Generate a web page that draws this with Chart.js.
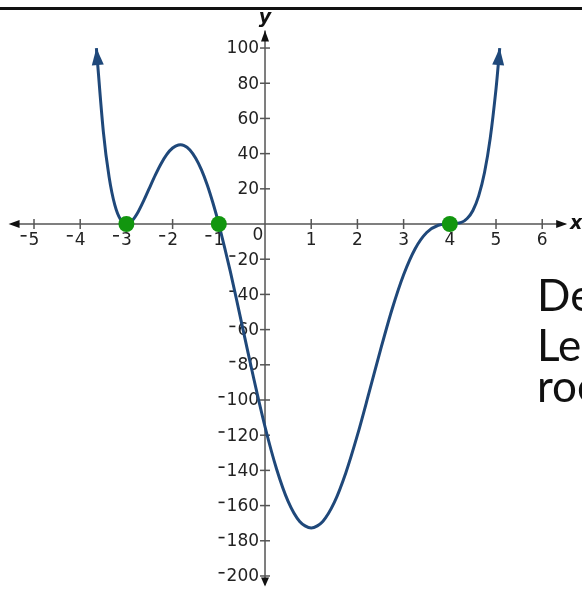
<!DOCTYPE html>
<html>
<head>
<meta charset="utf-8">
<script src="https://cdn.jsdelivr.net/npm/chart.js@4"></script>
<style>
  body { margin: 0; background: #fff; }
  canvas { display: block; }
</style>
</head>
<body>
<canvas id="graph" width="582" height="589"></canvas>
<script>
// sampled points of the polynomial curve
let xValues = [-3.65, -3.5, -3.375, -3.25, -3.125, -3, -2.875, -2.75, -2.625, -2.5, -2.375, -2.25,
  -2.125, -2, -1.875, -1.75, -1.625, -1.5, -1.375, -1.25, -1.125, -1,
  -0.75, -0.5, -0.25, 0, 0.25, 0.5, 0.75, 1, 1.25, 1.5, 1.75, 2, 2.25, 2.5, 2.75,
  3, 3.25, 3.5, 3.75, 4, 4.25, 4.375, 4.5, 4.625, 4.75, 4.875, 5, 5.08]
let yValues = [100, 52.7, 26.8, 10.7, 2.4, 0, 1.9, 6.7, 13.3, 20.6, 27.8, 34.3,
  39.6, 43.2, 44.9, 44.6, 42.1, 37.4, 30.8, 22.2, 11.8, 0,
  -27.1, -57, -87.1, -115.2, -139.2, -157.6, -169, -172.8, -169, -158.2, -141.3, -120, -96, -71.5, -48.4,
  -28.8, -14, -4.8, -0.7, 0, 0.9, 3.1, 7.7, 16, 29.1, 48.8, 76.8, 100]

// zeros marked in green
let rootX = [-3, -1, 4]
let rootY = [0, 0, 0]

let xTicks = [-5, -4, -3, -2, -1, 1, 2, 3, 4, 5, 6]
let yTicks = [100, 80, 60, 40, 20, -20, -40, -60, -80, -100, -120, -140, -160, -180, -200]

let curveColor = "#1f487a"
let axisColor = "#555555"
let labelFont = "17px 'DejaVu Sans'"

function arrowHead(ctx, tipX, tipY, angle, len, half, color) {
  ctx.save()
  ctx.translate(tipX, tipY)
  ctx.rotate(angle)
  ctx.beginPath()
  ctx.moveTo(0, 0)
  ctx.lineTo(-len, -half)
  ctx.lineTo(-len, half)
  ctx.closePath()
  ctx.fillStyle = color
  ctx.fill()
  ctx.restore()
}

// drawn axes through the origin with crossing tick marks
let axesPlugin = {
  id: "axesThroughOrigin",
  beforeDatasetsDraw(chart) {
    let ctx = chart.ctx
    let xs = chart.scales.x
    let ys = chart.scales.y
    let ox = xs.getPixelForValue(0)
    let oy = ys.getPixelForValue(0)

    ctx.save()
    ctx.strokeStyle = axisColor
    ctx.lineWidth = 1.5
    ctx.beginPath()
    ctx.moveTo(xs.getPixelForValue(-5.5), oy)
    ctx.lineTo(xs.getPixelForValue(6.5), oy)
    ctx.moveTo(ox, ys.getPixelForValue(110))
    ctx.lineTo(ox, ys.getPixelForValue(-205))
    ctx.stroke()

    arrowHead(ctx, xs.getPixelForValue(-5.55), oy, Math.PI, 11, 4, "#111")
    arrowHead(ctx, xs.getPixelForValue(6.54), oy, 0, 11, 4, "#111")
    arrowHead(ctx, ox, ys.getPixelForValue(110), -Math.PI / 2, 11, 4, "#111")
    arrowHead(ctx, ox, ys.getPixelForValue(-206), Math.PI / 2, 9, 4, "#111")

    ctx.fillStyle = "#222"
    ctx.font = labelFont
    xTicks.forEach(v => {
      let px = xs.getPixelForValue(v)
      ctx.beginPath()
      ctx.moveTo(px, oy - 5)
      ctx.lineTo(px, oy + 5)
      ctx.stroke()
      let txt = String(Math.abs(v))
      let w = ctx.measureText(txt).width
      ctx.textAlign = "center"
      ctx.textBaseline = "top"
      ctx.fillText(txt, px, oy + 8)
      if (v < 0) ctx.fillRect(px - w / 2 - 8, oy + 11, 6, 1.6)
    })
    yTicks.forEach(v => {
      let py = ys.getPixelForValue(v)
      ctx.beginPath()
      ctx.moveTo(ox - 5, py)
      ctx.lineTo(ox + 5, py)
      ctx.stroke()
      let txt = String(Math.abs(v))
      let w = ctx.measureText(txt).width
      ctx.textAlign = "right"
      ctx.textBaseline = "middle"
      ctx.fillText(txt, ox - 6, py + 1)
      if (v < 0) ctx.fillRect(ox - 6 - w - 8, py - 4, 6, 1.6)
    })
    ctx.textAlign = "center"
    ctx.textBaseline = "top"
    ctx.fillText("0", ox - 7, oy + 3)

    ctx.fillStyle = "#111"
    ctx.font = "italic bold 19px 'DejaVu Sans'"
    ctx.textAlign = "left"
    ctx.textBaseline = "middle"
    ctx.fillText("x", xs.getPixelForValue(6.6), oy)
    ctx.textAlign = "center"
    ctx.fillText("y", ox, ys.getPixelForValue(117))
    ctx.restore()
  },
  afterDatasetsDraw(chart) {
    // arrowheads at both ends of the curve
    let pts = chart.getDatasetMeta(1).data
    let a = pts[0], b = pts[1]
    arrowHead(chart.ctx, a.x, a.y, Math.atan2(a.y - b.y, a.x - b.x), 17, 6, curveColor)
    let c = pts[pts.length - 1], d = pts[pts.length - 2]
    arrowHead(chart.ctx, c.x, c.y, Math.atan2(c.y - d.y, c.x - d.x), 17, 6, curveColor)
  },
  afterDraw(chart) {
    let ctx = chart.ctx
    ctx.save()
    // slide rule across the top
    ctx.fillStyle = "#111"
    ctx.fillRect(0, 7, chart.width, 3)
    // side notes, running off the right edge
    ctx.font = "44px Lato"
    ctx.textAlign = "left"
    ctx.textBaseline = "alphabetic"
    ctx.fillText("Degree", 537, 311)
    ctx.fillText("Leading", 537, 361)
    ctx.fillText("roots", 537, 402)
    ctx.restore()
  }
}

new Chart("graph", {
  type: "line",
  data: {
    datasets: [{
      data: rootX.map((x, i) => ({ x: x, y: rootY[i] })),
      showLine: false,
      pointRadius: 8,
      pointBackgroundColor: "#12960f",
      pointBorderWidth: 0
    }, {
      data: xValues.map((x, i) => ({ x: x, y: yValues[i] })),
      borderColor: curveColor,
      borderWidth: 3,
      borderCapStyle: "butt",
      borderJoinStyle: "round",
      tension: 0.3,
      pointRadius: 0
    }]
  },
  options: {
    responsive: false,
    devicePixelRatio: 1,
    animation: false,
    layout: { padding: 0, autoPadding: false },
    plugins: { legend: { display: false }, tooltip: { enabled: false } },
    scales: {
      x: { type: "linear", min: -5.736, max: 6.861, display: false },
      y: { type: "linear", min: -207.4, max: 127.3, display: false }
    }
  },
  plugins: [axesPlugin]
});
</script>
</body>
</html>
